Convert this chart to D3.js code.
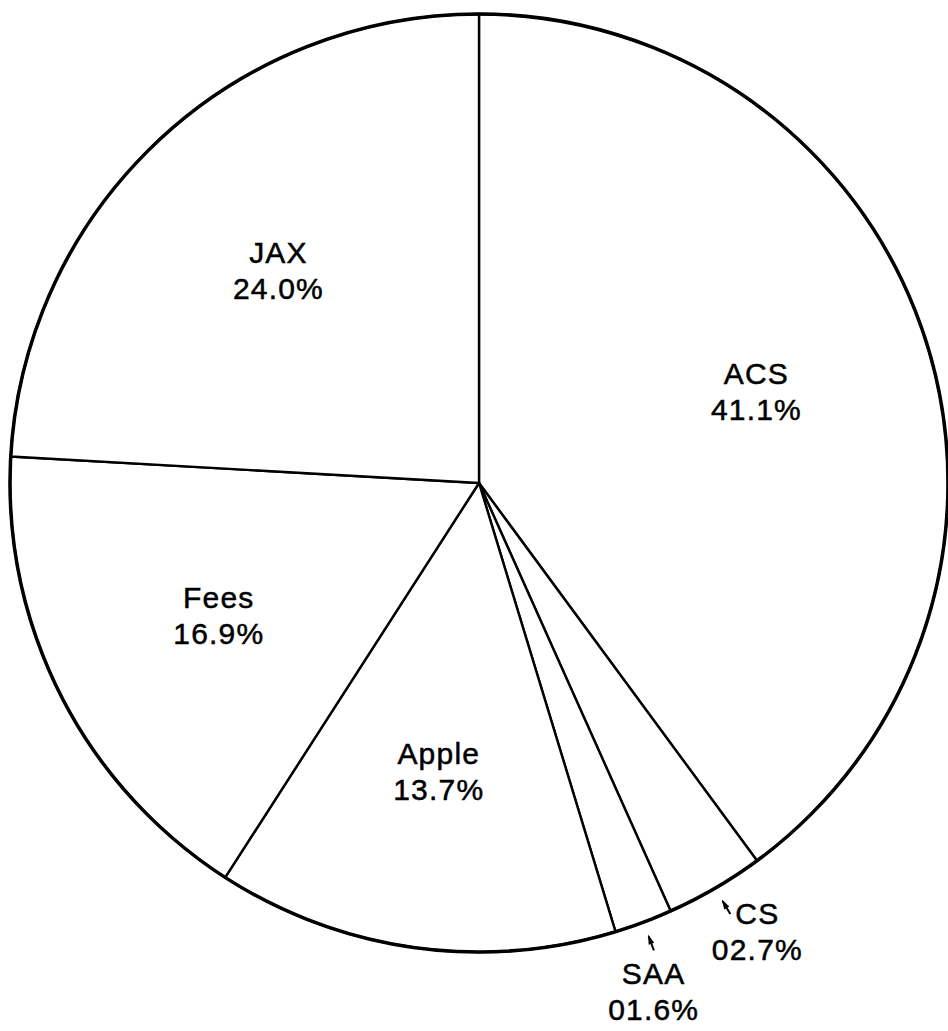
<!DOCTYPE html>
<html>
<head>
<meta charset="utf-8">
<script src="https://cdn.jsdelivr.net/npm/d3@7"></script>
<style>
  html, body { margin: 0; padding: 0; background: #fff; }
  svg { display: block; }
  text { font-family: "Liberation Sans", Arial, Helvetica, sans-serif; fill: #000; stroke: #000; stroke-width: 0.5; }
</style>
</head>
<body>
<svg width="948" height="1031"></svg>
<script>
// slices, clockwise from 12 o'clock
const labels = ['ACS', 'CS', 'SAA', 'Apple', 'Fees', 'JAX']
// percentages printed on the chart
const percents = [41.1, 2.7, 1.6, 13.7, 16.9, 24.0]
// slice sizes as actually drawn (in %)
const drawnShares = [39.9, 3.4, 2.0, 13.8, 16.8, 24.1]

const width = 948
const height = 1031
const cx = 479
const cy = 483
const radius = 469
const fmt = d3.format('04.1f')

const slices = labels.map((name, i) => ({ name, pct: percents[i], share: drawnShares[i] }))

const svg = d3.select('svg')
const g = svg.append('g')
    .attr('transform', `translate(${cx}, ${cy})`)

const pie = d3.pie()
    .sort(null)
    .value(d => d.share)

const arcs = pie(slices)

const arc = d3.arc()
    .innerRadius(0)
    .outerRadius(radius)

g.selectAll('path.slice')
  .data(arcs)
  .enter().append('path')
    .attr('class', 'slice')
    .attr('d', arc)
    .attr('fill', '#fff')
    .attr('stroke', '#000')
    .attr('stroke-width', 2.4)
    .attr('stroke-linejoin', 'round')

// heavier outline
g.append('circle')
    .attr('r', radius)
    .attr('fill', 'none')
    .attr('stroke', '#000')
    .attr('stroke-width', 3.5)

const mid = d => (d.startAngle + d.endAngle) / 2
const isSmall = d => d.data.pct < 5

// thin slices get their labels outside, fanned apart a little
const small = arcs.filter(isSmall)
const spread = 0.055
const outerPos = d => {
  const k = small.indexOf(d)
  const a = mid(d) + spread * (k - (small.length - 1) / 2)
  return d3.pointRadial(a, 528 + 10 * k)
}

const label = g.selectAll('g.label')
  .data(arcs)
  .enter().append('g')
    .attr('class', 'label')
    .attr('transform', d => {
      const p = isSmall(d) ? outerPos(d) : d3.pointRadial(mid(d), 292)
      return `translate(${p[0]}, ${p[1]})`
    })

label.append('text')
    .attr('text-anchor', 'middle')
    .attr('y', -8)
    .attr('font-size', 30)
    .attr('letter-spacing', 1.2)
    .text(d => d.data.name)

label.append('text')
    .attr('text-anchor', 'middle')
    .attr('y', 28)
    .attr('font-size', 30)
    .attr('letter-spacing', 1.2)
    .text(d => fmt(d.data.pct) + '%')

// little pointer ticks for the thin slices
g.selectAll('line.tick')
  .data(small)
  .enter().append('line')
    .attr('class', 'tick')
    .attr('x1', d => d3.pointRadial(mid(d), 484)[0])
    .attr('y1', d => d3.pointRadial(mid(d), 484)[1])
    .attr('x2', d => d3.pointRadial(mid(d), 499)[0])
    .attr('y2', d => d3.pointRadial(mid(d), 499)[1])
    .attr('stroke', '#000')
    .attr('stroke-width', 2)

g.selectAll('path.head')
  .data(small)
  .enter().append('path')
    .attr('class', 'head')
    .attr('d', d => {
      const a = mid(d)
      const tip = d3.pointRadial(a, 482)
      const l = d3.pointRadial(a - 0.006, 492)
      const r = d3.pointRadial(a + 0.006, 492)
      return `M${tip}L${l}L${r}Z`
    })
    .attr('fill', '#000')
</script>
</body>
</html>
